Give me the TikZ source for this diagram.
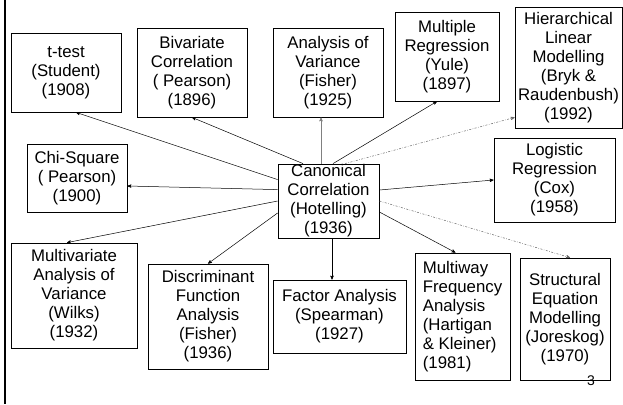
\documentclass[tikz,border=0pt]{standalone}
\usepackage{fontspec}
\setmainfont{Liberation Sans}
\usetikzlibrary{arrows,positioning}

\begin{document}
\begin{tikzpicture}[->,>=stealth',x=1pt,y=-1pt,line width=0.5pt]
            \tikzstyle{box}=[draw,line width=0.8pt,inner sep=0pt,align=center,font=\fontsize{16.8}{19}\selectfont]
            \tikzstyle{later}=[gray!80!black,dash pattern=on 2pt off 1.5pt on 0.6pt off 1.5pt]
            \useasboundingbox (0,0) rectangle (623,404);
            \draw[-,line width=2pt] (5,0) -- (5,404);
            % top row
            \node[box, minimum width=110pt, minimum height=79pt]  (ttest)  at (66,72.5)    {t-test\\(Student)\\(1908)};
            \node[box, minimum width=110pt, minimum height=89pt]  (biv)    at (192,72.5)   {Bivariate\\Correlation\\( Pearson)\\(1896)};
            \node[box, minimum width=110pt, minimum height=89pt]  (anova)  at (328,72.5)   {Analysis of\\Variance\\(Fisher)\\(1925)};
            \node[box, minimum width=104pt, minimum height=89pt]  (mreg)   at (447,56.5)   {Multiple\\Regression\\(Yule)\\(1897)};
            \node[box, minimum width=107pt, minimum height=121pt] (hlm)    at (568.5,67.5) {Hierarchical\\Linear\\Modelling\\(Bryk \&\\Raudenbush)\\(1992)};
            % middle row
            \node[box, minimum width=100pt, minimum height=68pt]  (chisq)  at (77,178)     {Chi-Square\\( Pearson)\\(1900)};
            \node[box, minimum width=101pt, minimum height=74pt]  (canon)  at (328.5,201)  {Canonical\\Correlation\\(Hotelling)\\(1936)};
            \node[box, minimum width=121pt, minimum height=84pt]  (logit)  at (554.5,180)  {Logistic\\Regression\\(Cox)\\(1958)};
            % bottom row
            \node[box, minimum width=126pt, minimum height=105pt] (manova) at (74,295.5)   {Multivariate\\Analysis of\\Variance\\(Wilks)\\(1932)};
            \node[box, minimum width=120pt, minimum height=105pt] (disc)   at (208,316.5)  {Discriminant\\Function\\Analysis\\(Fisher)\\(1936)};
            \node[box, minimum width=133pt, minimum height=73pt]  (factor) at (339.5,316.5) {Factor Analysis\\(Spearman)\\(1927)};
            \node[box, minimum width=95pt,  minimum height=127pt, align=left] (mfreq) at (462.5,316.5) {Multiway\\Frequency\\Analysis\\(Hartigan\\\& Kleiner)\\(1981)};
            \node[box, minimum width=90pt,  minimum height=122pt] (sem)    at (565,319)    {Structural\\Equation\\Modelling\\(Joreskog)\\(1970)};
            \node[font=\fontsize{14}{16}\selectfont, inner sep=0pt] (slideno) at (591,381) {3};
            % connectors
            \draw ([yshift=-16pt]canon.north west) -- ([xshift=10pt]ttest.south);
            \draw ([xshift=-25.5pt]canon.north) -- (biv.south);
            \draw[gray] ([xshift=-7.5pt]canon.north) -- ([xshift=-7pt]anova.south);
            \draw ([xshift=4.5pt]canon.north) -- ([xshift=-10pt]mreg.south);
            \draw[later] ([xshift=16.5pt]canon.north) -- ([yshift=11pt]hlm.south west);
            \draw ([yshift=-26pt]canon.north west) -- ([yshift=-8pt]chisq.east);
            \draw ([yshift=11pt]canon.east) -- (logit.west);
            \draw (canon.west) -- ([xshift=-7pt]manova.north);
            \draw ([yshift=-12pt]canon.west) -- (disc.north);
            \draw ([xshift=3.5pt]canon.south) -- ([xshift=-7.5pt]factor.north);
            \draw ([yshift=-11pt]canon.east) -- ([xshift=-7pt]mfreq.north);
            \draw[later] (canon.east) -- ([xshift=5pt]sem.north);
\end{tikzpicture}
\end{document}
